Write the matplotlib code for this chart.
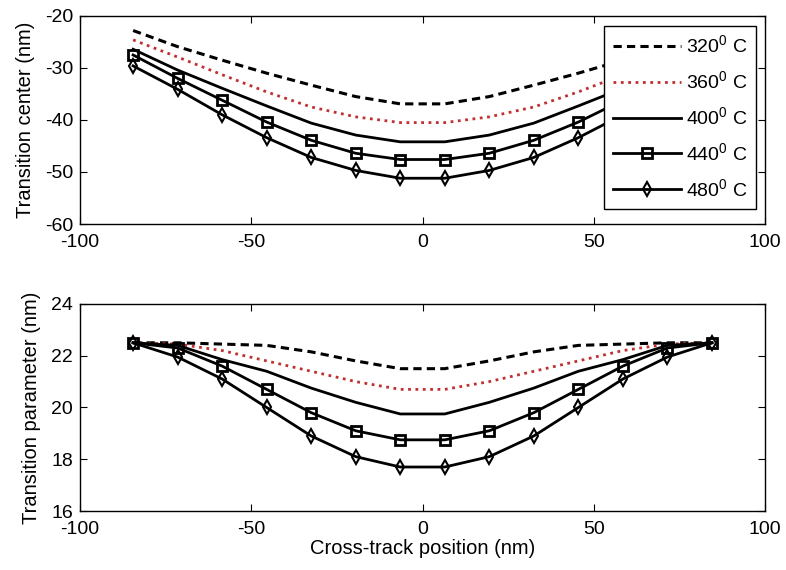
import numpy as np
import matplotlib.pyplot as plt

plt.rcParams['font.family'] = 'Liberation Sans'
plt.rcParams['mathtext.fontset'] = 'custom'
plt.rcParams['mathtext.rm'] = 'Liberation Sans'
plt.rcParams['mathtext.it'] = 'Liberation Sans'
plt.rcParams['axes.unicode_minus'] = False

# cross-track sample positions (nm)
x = [-84.5, -71.5, -58.5, -45.5, -32.5, -19.5, -6.5,
     6.5, 19.5, 32.5, 45.5, 58.5, 71.5, 84.5]

# transition center (nm) per annealing temperature
center_320 = [-22.8, -25.9, -28.5, -31.0, -33.3, -35.5, -36.9,
              -36.9, -35.5, -33.3, -31.0, -28.5, -25.9, -22.8]
center_360 = [-24.6, -27.9, -31.3, -34.6, -37.5, -39.4, -40.5,
              -40.5, -39.4, -37.5, -34.6, -31.3, -27.9, -24.6]
center_400 = [-26.4, -30.4, -33.9, -37.3, -40.6, -42.9, -44.2,
              -44.2, -42.9, -40.6, -37.3, -33.9, -30.4, -26.4]
center_440 = [-27.5, -32.0, -36.2, -40.4, -43.9, -46.4, -47.6,
              -47.6, -46.4, -43.9, -40.4, -36.2, -32.0, -27.5]
center_480 = [-29.6, -34.1, -39.0, -43.4, -47.2, -49.7, -51.2,
              -51.2, -49.7, -47.2, -43.4, -39.0, -34.1, -29.6]

# transition parameter (nm) per annealing temperature
param_320 = [22.5, 22.5, 22.45, 22.4, 22.15, 21.8, 21.5,
             21.5, 21.8, 22.15, 22.4, 22.45, 22.5, 22.5]
param_360 = [22.5, 22.45, 22.2, 21.8, 21.4, 21.0, 20.7,
             20.7, 21.0, 21.4, 21.8, 22.2, 22.45, 22.5]
param_400 = [22.5, 22.4, 21.85, 21.4, 20.75, 20.2, 19.75,
             19.75, 20.2, 20.75, 21.4, 21.85, 22.4, 22.5]
param_440 = [22.5, 22.3, 21.6, 20.7, 19.8, 19.1, 18.75,
             18.75, 19.1, 19.8, 20.7, 21.6, 22.3, 22.5]
param_480 = [22.5, 21.95, 21.1, 20.0, 18.9, 18.1, 17.7,
             17.7, 18.1, 18.9, 20.0, 21.1, 21.95, 22.5]

labels = ['320$^0$ C', '360$^0$ C', '400$^0$ C', '440$^0$ C', '480$^0$ C']

styles = [
    dict(color='black', ls='--', lw=2.2, dashes=(2.7, 1.7)),
    dict(color='#c03030', ls=':', lw=2.0),
    dict(color='black', ls='-', lw=2.0),
    dict(color='black', ls='-', lw=2.0, marker='s', ms=6.5, mfc='none', mew=2.0),
    dict(color='black', ls='-', lw=2.0, marker='d', ms=7.5, mfc='none', mew=1.5),
]

fig = plt.figure(figsize=(7.86, 5.70), dpi=100)
ax1 = fig.add_axes([0.1018, 0.607, 0.8715, 0.365])
ax2 = fig.add_axes([0.1018, 0.1035, 0.8715, 0.3632])

for ys, lab, st in zip([center_320, center_360, center_400, center_440, center_480], labels, styles):
    ax1.plot(x, ys, label=lab, **st)
for ys, st in zip([param_320, param_360, param_400, param_440, param_480], styles):
    ax2.plot(x, ys, **st)

ax1.set_xlim(-100, 100)
ax1.set_ylim(-60, -20)
ax1.set_yticks([-60, -50, -40, -30, -20])
ax2.set_xlim(-100, 100)
ax2.set_ylim(16, 24)
ax2.set_yticks([16, 18, 20, 22, 24])

for ax in (ax1, ax2):
    ax.set_xticks([-100, -50, 0, 50, 100])
    ax.tick_params(direction='in', top=True, right=True, length=5, width=0.8,
                   labelsize=14)
    ax.tick_params(axis='y', pad=5)
    ax.tick_params(axis='x', pad=7)
    for sp in ax.spines.values():
        sp.set_linewidth(1.0)

ax1.set_ylabel('Transition center (nm)', fontsize=14.5, labelpad=7)
ax2.set_ylabel('Transition parameter (nm)', fontsize=14.5, labelpad=7)
ax2.set_xlabel('Cross-track position (nm)', fontsize=14.5, labelpad=1)

leg = ax1.legend(loc='upper right', bbox_to_anchor=(0.987, 0.952), borderaxespad=0,
                 fontsize=14, handlelength=3.5, handletextpad=0.25, labelspacing=0.72,
                 borderpad=0.45, fancybox=False, framealpha=1, edgecolor='black')
leg.get_frame().set_linewidth(1.0)

fig.savefig('out.png', dpi=100, facecolor='white')
